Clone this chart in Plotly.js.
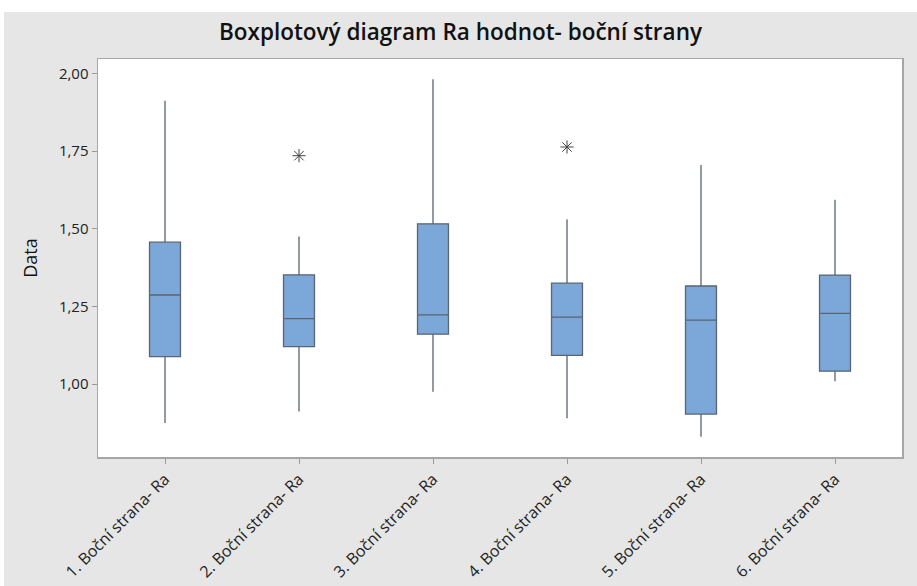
<!DOCTYPE html>
<html>
<head>
<meta charset="utf-8">
<script src="https://cdn.plot.ly/plotly-3.0.1.min.js"></script>
<style>
  html, body { margin: 0; padding: 0; background: #ffffff; width: 917px; height: 586px; overflow: hidden; }
  #chart { position: absolute; left: 4px; top: 12px; width: 913px; height: 574px; }
</style>
</head>
<body>
<div id="chart"></div>
<script>
const categories = [
  "1. Boční strana- Ra",
  "2. Boční strana- Ra",
  "3. Boční strana- Ra",
  "4. Boční strana- Ra",
  "5. Boční strana- Ra",
  "6. Boční strana- Ra"
];
const lowerWhisker = [0.875, 0.912, 0.976, 0.891, 0.831, 1.010];
const q1Values     = [1.089, 1.121, 1.161, 1.093, 0.904, 1.042];
const medianValues = [1.287, 1.211, 1.223, 1.216, 1.206, 1.228];
const q3Values     = [1.457, 1.352, 1.516, 1.325, 1.316, 1.351];
const upperWhisker = [1.912, 1.475, 1.981, 1.531, 1.705, 1.593];
const outlierCategories = ["2. Boční strana- Ra", "4. Boční strana- Ra"];
const outlierValues = [1.735, 1.763];
const yTicks = [1.00, 1.25, 1.50, 1.75, 2.00];

const boxTrace = {
  type: 'box',
  x: categories,
  q1: q1Values,
  median: medianValues,
  q3: q3Values,
  lowerfence: lowerWhisker,
  upperfence: upperWhisker,
  fillcolor: '#7ba7d9',
  line: { color: '#5b6470', width: 1.3 },
  whiskerwidth: 0,
  boxpoints: false,
  hoverinfo: 'skip',
  showlegend: false
};

const outlierTrace = {
  type: 'scatter',
  mode: 'markers',
  x: outlierCategories,
  y: outlierValues,
  marker: { symbol: 'asterisk-open', size: 11, color: '#444444', line: { color: '#444444', width: 1 } },
  hoverinfo: 'skip',
  showlegend: false
};

const layout = {
  width: 913,
  height: 574,
  paper_bgcolor: '#e6e6e6',
  plot_bgcolor: '#ffffff',
  separators: ',.',
  margin: { l: 94, r: 15, t: 47, b: 129 },
  boxgap: 0.67,
  font: { family: 'Open Sans, Noto Sans, sans-serif', color: '#222222' },
  title: {
    text: 'Boxplotový diagram Ra hodnot- boční strany',
    font: { size: 22.5, color: '#111111', weight: 600, family: 'Open Sans, Noto Sans, sans-serif' },
    x: 0.5, xanchor: 'center', y: 0.965, yanchor: 'middle', yref: 'container'
  },
  xaxis: {
    type: 'category',
    categoryorder: 'array',
    categoryarray: categories,
    range: [-0.5, 5.5],
    tickangle: -45,
    ticks: 'outside',
    ticklen: 5,
    tickcolor: '#9a9a9a',
    tickfont: { size: 16, color: '#222222' },
    showline: true,
    linecolor: '#a6a6a6',
    linewidth: 1.5,
    mirror: true,
    showgrid: false,
    zeroline: false,
    fixedrange: true
  },
  yaxis: {
    range: [0.766, 2.046],
    tickvals: yTicks,
    tickformat: '.2f',
    ticks: 'outside',
    ticklen: 5,
    tickcolor: '#9a9a9a',
    tickfont: { size: 15, color: '#222222' },
    showline: true,
    linecolor: '#a6a6a6',
    linewidth: 1.5,
    mirror: true,
    showgrid: false,
    zeroline: false,
    title: { text: 'Data', font: { size: 18, color: '#111111' }, standoff: 16 },
    fixedrange: true
  }
};

Plotly.newPlot('chart', [boxTrace, outlierTrace], layout, { displayModeBar: false, staticPlot: true });
</script>
</body>
</html>
